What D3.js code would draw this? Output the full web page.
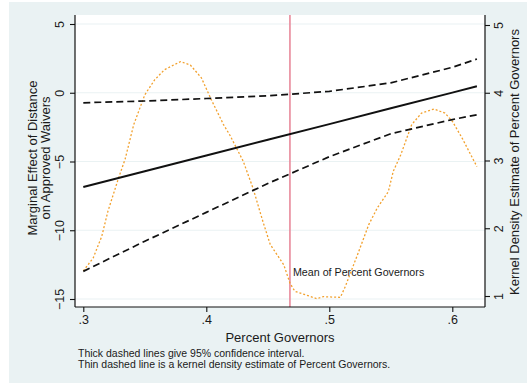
<!DOCTYPE html>
<html lang="en">
  <head>
    <meta charset="UTF-8" />
    <title>Marginal Effect of Distance</title>
    <script src="https://d3js.org/d3.v7.min.js"></script>
    <style>
      body { margin: 0; background: #ffffff; }
      text { font-family: "Liberation Sans", Arial, Helvetica, sans-serif; fill: #1a1a1a; }
    </style>
  </head>
  <body>
    <div id="chart"></div>
  </body>
  <script>
    // data
    const pctGov = [0.30, 0.35, 0.40, 0.45, 0.50, 0.55, 0.60, 0.62];
    const effect = [-6.86, -5.71, -4.57, -3.42, -2.28, -1.13, 0.01, 0.47];
    const upperCI = [-0.73, -0.6, -0.42, -0.22, 0.1, 0.72, 1.85, 2.45];
    const lowerCI = [-12.99, -10.8, -8.7, -6.6, -4.65, -2.98, -1.95, -1.6];

    const densX = [0.300, 0.308, 0.315, 0.320, 0.329, 0.334, 0.341, 0.350, 0.358, 0.366,
      0.379, 0.387, 0.396, 0.404, 0.414, 0.419, 0.430, 0.438, 0.446, 0.452,
      0.463, 0.468, 0.472, 0.490, 0.495, 0.509, 0.513, 0.524, 0.532, 0.539,
      0.548, 0.552, 0.558, 0.567, 0.575, 0.585, 0.594, 0.600, 0.608, 0.620];
    const densY = [1.37, 1.56, 1.88, 2.25, 2.76, 3.02, 3.53, 3.97, 4.19, 4.34,
      4.46, 4.41, 4.22, 3.90, 3.53, 3.38, 2.99, 2.59, 2.10, 1.76,
      1.46, 1.19, 1.07, 0.96, 0.99, 0.98, 1.14, 1.66, 2.05, 2.30,
      2.54, 2.84, 3.08, 3.53, 3.70, 3.76, 3.70, 3.58, 3.33, 2.91];

    const meanGov = 0.468;
    const xTicks = [0.3, 0.4, 0.5, 0.6];
    const yTicks = [-15, -10, -5, 0, 5];
    const y2Ticks = [1, 2, 3, 4, 5];

    const W = 527, H = 383;
    const plot = { left: 75, right: 485, top: 15, bottom: 307 };

    const svg = d3.select("#chart").append("svg").attr("width", W).attr("height", H);

    // backgrounds
    svg.append("rect").attr("x", 9).attr("y", 2).attr("width", W - 9).attr("height", H - 2)
      .style("fill", "#eaf2f3");
    svg.append("rect").attr("x", plot.left).attr("y", plot.top)
      .attr("width", plot.right - plot.left).attr("height", plot.bottom - plot.top)
      .style("fill", "#ffffff");

    // scales
    const x = d3.scaleLinear().domain([0.3, 0.6]).range([83.3, 452.3]);
    const y = d3.scaleLinear().domain([-15, 5]).range([299, 24]);
    const y2 = d3.scaleLinear().domain([1, 5]).range([296, 25]);

    // gridlines
    svg.selectAll("grid").data(yTicks).join("line")
      .attr("x1", plot.left).attr("x2", plot.right)
      .attr("y1", (d) => y(d)).attr("y2", (d) => y(d))
      .style("stroke", "#eaf2f3").style("stroke-width", 1.2);

    // mean line
    svg.append("line")
      .attr("x1", x(meanGov)).attr("x2", x(meanGov))
      .attr("y1", plot.top).attr("y2", plot.bottom)
      .style("stroke", "#e8899b").style("stroke-width", 1.6);
    svg.append("text").attr("x", x(meanGov) + 3).attr("y", 276)
      .text("Mean of Percent Governors").style("font-size", "10.7px");

    // density (right axis)
    const dens = densX.map((d, i) => [x(d), y2(densY[i])]);
    svg.append("path").attr("d", d3.line()(dens))
      .style("fill", "none").style("stroke", "#f2a12e")
      .style("stroke-width", 1.3).style("stroke-dasharray", "2,2");

    // confidence bounds
    const line = (vals) => d3.line()(pctGov.map((d, i) => [x(d), y(vals[i])]));
    [upperCI, lowerCI].forEach((v) => {
      svg.append("path").attr("d", line(v))
        .style("fill", "none").style("stroke", "#111")
        .style("stroke-width", 1.7).style("stroke-dasharray", "7,4");
    });
    svg.append("path").attr("d", line(effect))
      .style("fill", "none").style("stroke", "#111").style("stroke-width", 2);

    // axes
    const axisLine = (x1, y1, x2, y2_) => svg.append("line")
      .attr("x1", x1).attr("y1", y1).attr("x2", x2).attr("y2", y2_)
      .style("stroke", "#111").style("stroke-width", 1.2);
    axisLine(plot.left, plot.top, plot.left, plot.bottom);
    axisLine(plot.right, plot.top, plot.right, plot.bottom);
    axisLine(plot.left, plot.bottom, plot.right, plot.bottom);

    const gx = svg.append("g").attr("transform", `translate(0,${plot.bottom})`)
      .call(d3.axisBottom(x).tickValues(xTicks).tickSize(5)
        .tickFormat((d) => d3.format(".1f")(d).replace(/^0/, "")));
    gx.select(".domain").remove();
    gx.selectAll("text").attr("y", 8).style("font-size", "12.5px");

    const gy = svg.append("g").attr("transform", `translate(${plot.left},0)`)
      .call(d3.axisLeft(y).tickValues(yTicks).tickSize(5));
    gy.select(".domain").remove();
    gy.selectAll("text").attr("x", null).attr("dy", "0.35em")
      .attr("transform", "translate(-15,0) rotate(-90)")
      .style("text-anchor", "middle").style("font-size", "12.5px");

    const gy2 = svg.append("g").attr("transform", `translate(${plot.right},0)`)
      .call(d3.axisRight(y2).tickValues(y2Ticks).tickSize(5).tickFormat(d3.format("d")));
    gy2.select(".domain").remove();
    gy2.selectAll("text").attr("x", null).attr("dy", "0.35em")
      .attr("transform", "translate(14,0) rotate(-90)")
      .style("text-anchor", "middle").style("font-size", "12.5px");

    svg.selectAll(".tick line").style("stroke", "#111").style("stroke-width", 1.1);
    svg.selectAll(".tick text").style("fill", "#1a1a1a")
      .style("font-family", "'Liberation Sans', Arial, sans-serif");

    // titles
    svg.append("text").attr("x", 280).attr("y", 342).style("text-anchor", "middle")
      .style("font-size", "13px").text("Percent Governors");

    svg.append("text").attr("transform", "translate(32,158) rotate(-90)").attr("dy", "0.35em")
      .style("text-anchor", "middle").style("font-size", "13px").text("Marginal Effect of Distance");
    svg.append("text").attr("transform", "translate(45,158) rotate(-90)").attr("dy", "0.35em")
      .style("text-anchor", "middle").style("font-size", "13px").text("on Approved Waivers");

    svg.append("text").attr("transform", "translate(514,162) rotate(-90)").attr("dy", "0.35em")
      .style("text-anchor", "middle").style("font-size", "13px")
      .text("Kernel Density Estimate of Percent Governors");

    // notes
    svg.append("text").attr("x", 78).attr("y", 357).style("font-size", "10.5px")
      .text("Thick dashed lines give 95% confidence interval.");
    svg.append("text").attr("x", 78).attr("y", 368).style("font-size", "10.5px")
      .text("Thin dashed line is a kernel density estimate of Percent Governors.");
  </script>
</html>
